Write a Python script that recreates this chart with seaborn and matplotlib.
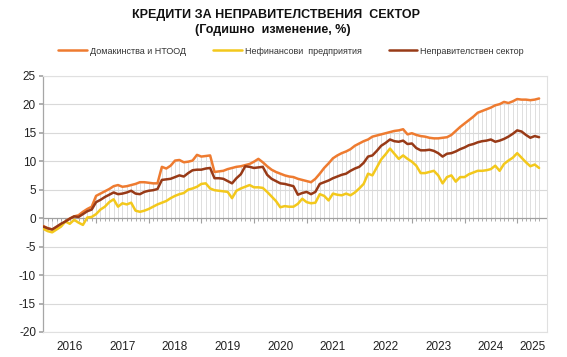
import numpy as np
import pandas as pd
import matplotlib
matplotlib.use("Agg")
import matplotlib.pyplot as plt
import matplotlib.transforms as mtransforms
from matplotlib.lines import Line2D
import seaborn as sns

# ---------------- data (monthly, Jan 2016 - Jun 2025) ----------------
years = ["2016", "2017", "2018", "2019", "2020", "2021", "2022", "2023", "2024", "2025"]
series_names = ["Домакинства и НТООД", "Нефинансови  предприятия", "Неправителствен сектор"]

households = [
    -1.4, -1.8, -2.0, -1.6, -1.2, -0.6, -0.1, 0.3, 0.5, 1.1, 1.6, 2.0,
    3.9, 4.3, 4.7, 5.1, 5.6, 5.8, 5.5, 5.6, 5.8, 6.0, 6.3, 6.3,
    6.2, 6.1, 6.1, 9.0, 8.7, 9.2, 10.1, 10.2, 9.8, 9.9, 10.1, 11.1,
    10.8, 10.9, 11.0, 8.1, 8.2, 8.3, 8.6, 8.8, 9.0, 9.1, 9.3, 9.5,
    9.9, 10.4, 9.8, 9.1, 8.5, 8.1, 7.8, 7.5, 7.3, 7.2, 6.9, 6.7,
    6.5, 6.3, 6.9, 7.8, 8.8, 9.6, 10.5, 11.0, 11.4, 11.7, 12.1, 12.7,
    13.1, 13.5, 13.8, 14.3, 14.5, 14.7, 14.9, 15.1, 15.3, 15.4, 15.6, 14.7,
    14.9, 14.6, 14.4, 14.3, 14.1, 14.0, 14.0, 14.1, 14.2, 14.6, 15.3, 16.0,
    16.6, 17.2, 17.8, 18.5, 18.8, 19.1, 19.4, 19.8, 20.0, 20.4, 20.2, 20.5,
    20.9, 20.8, 20.8, 20.7, 20.8, 21.0,
]
nonfinancial = [
    -1.9, -2.3, -2.5, -2.0, -1.5, -0.6, -1.0, -0.3, -0.8, -1.2, 0.1, 0.2,
    0.7, 1.5, 2.0, 2.8, 3.3, 2.0, 2.6, 2.4, 2.7, 1.3, 1.1, 1.3,
    1.6, 2.0, 2.4, 2.7, 3.0, 3.5, 3.9, 4.2, 4.4, 5.0, 5.2, 5.5,
    6.0, 6.1, 5.2, 4.9, 4.8, 4.7, 4.6, 3.5, 4.8, 5.2, 5.5, 5.8,
    5.4, 5.4, 5.3, 4.6, 3.8, 3.0, 1.9, 2.1, 2.0, 2.0, 2.5, 3.4,
    2.8, 2.6, 2.7, 4.2, 3.9, 3.1, 4.3, 4.1, 4.0, 4.3, 4.0, 4.5,
    5.2, 6.0, 7.8, 7.5, 8.9, 10.3, 11.2, 12.2, 11.3, 10.4, 11.0, 10.4,
    9.9, 9.2, 7.9, 7.9, 8.1, 8.3, 7.5, 6.1, 7.2, 7.5, 6.4, 7.2,
    7.2, 7.7, 8.0, 8.3, 8.3, 8.4, 8.6, 9.2, 8.3, 9.5, 10.1, 10.6,
    11.4, 10.6, 9.8, 9.1, 9.4, 8.8,
]
nongov = [
    -1.5, -1.8, -2.0, -1.5, -1.0, -0.6, -0.1, 0.3, 0.2, 0.7, 1.2, 1.5,
    2.8, 3.2, 3.7, 4.1, 4.5, 4.2, 4.3, 4.5, 4.8, 4.3, 4.2, 4.6,
    4.8, 4.9, 5.1, 6.7, 6.8, 6.9, 7.2, 7.5, 7.3, 7.9, 8.4, 8.5,
    8.5, 8.7, 8.8, 7.0, 7.0, 6.9, 6.5, 6.1, 7.0, 7.7, 9.1, 9.0,
    8.8, 8.9, 9.0, 7.6, 6.9, 6.5, 6.1, 6.0, 5.8, 5.6, 4.1, 4.4,
    4.6, 4.2, 4.6, 6.0, 6.3, 6.6, 7.0, 7.3, 7.6, 7.8, 8.3, 8.7,
    9.0, 9.7, 10.8, 11.0, 11.8, 12.7, 13.2, 13.8, 13.5, 13.4, 13.6, 13.0,
    13.1, 12.3, 11.9, 11.9, 12.0, 11.8, 11.4, 10.8, 11.3, 11.4, 11.7, 12.1,
    12.4, 12.8, 13.0, 13.3, 13.5, 13.6, 13.8, 13.4, 13.6, 13.9, 14.3, 14.8,
    15.4, 15.2, 14.6, 14.1, 14.4, 14.2,
]
y_ticks = [-20, -15, -10, -5, 0, 5, 10, 15, 20, 25]

colors = ["#EE7B30", "#F3C81C", "#983A17"]

# ---------------- figure ----------------
sns.set_theme(style="white")
plt.rcParams["font.family"] = ["Liberation Sans", "DejaVu Sans"]
plt.rcParams["axes.unicode_minus"] = False

fig = plt.figure(figsize=(5.67, 3.57), dpi=100)
ax = fig.add_axes([43 / 567, 1 - 332 / 357, (547 - 43) / 567, (332 - 75.7) / 357])

n = len(households)
idx = np.arange(n)
df = pd.DataFrame({
    "m": np.concatenate([idx, idx, idx]),
    "v": households + nonfinancial + nongov,
    "s": [series_names[0]] * n + [series_names[1]] * n + [series_names[2]] * n,
})

# drop lines
top = np.maximum.reduce([np.array(households), np.array(nonfinancial), np.array(nongov)])
ax.vlines(idx, 0, top, color="#D9D9D9", lw=0.6, zorder=1)

sns.lineplot(data=df, x="m", y="v", hue="s", palette=colors, lw=1.8, ax=ax,
             legend=False, zorder=3)

ax.set_xlim(-0.1, 114.8)
ax.set_ylim(-20, 25)
ax.set_yticks(y_ticks)
ax.set_yticklabels([str(t) for t in y_ticks], fontsize=8.5, color="#222222")
for t in y_ticks:
    if t != 0:
        ax.axhline(t, color="#D9D9D9", lw=0.8, zorder=0)
ax.axhline(0, color="#A0A0A0", lw=0.9, zorder=2)

for side in ["top", "right", "bottom"]:
    ax.spines[side].set_color("#E0E0E0")
    ax.spines[side].set_linewidth(0.8)
ax.spines["left"].set_color("#A6A6A6")
ax.spines["left"].set_linewidth(0.9)
ax.tick_params(axis="y", length=3, color="#A6A6A6", pad=2, left=True)

ax.set_xticks([])
ax.set_xlabel("")
ax.set_ylabel("")

# month ticks along zero line
ax.vlines(idx, -0.55, 0, color="#A0A0A0", lw=0.6, zorder=2)
ax.vlines(np.arange(12, n + 1, 12), -0.9, 0, color="#A0A0A0", lw=0.8, zorder=2)

# year labels
tl = mtransforms.blended_transform_factory(ax.transData, ax.transAxes)
for k, yr in enumerate(years):
    start = 12 * k
    end = min(12 * (k + 1), 114.8)
    ax.text((start + end) / 2, -0.035, yr, transform=tl, ha="center", va="top",
            fontsize=8.5, color="#222222")

# titles
fig.text(276 / 567, 1 - 15 / 357, "КРЕДИТИ ЗА НЕПРАВИТЕЛСТВЕНИЯ  СЕКТОР", ha="center",
         va="center", fontsize=9, fontweight="bold", color="#111111")
fig.text(273 / 567, 1 - 30 / 357, "(Годишно  изменение, %)", ha="center",
         va="center", fontsize=9, fontweight="bold", color="#111111")

# legend
handles = [Line2D([0], [0], color=c, lw=1.8) for c in colors]
fig.legend(handles, series_names, loc="center", bbox_to_anchor=(291 / 567, 1 - 51 / 357),
           ncol=3, frameon=False, fontsize=6.5, handlelength=3.2, handletextpad=0.3,
           columnspacing=3.0, labelcolor="#333333")

fig.savefig("out.png", dpi=100)
